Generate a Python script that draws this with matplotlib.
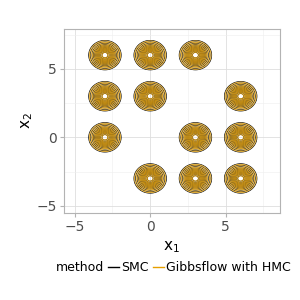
import matplotlib
matplotlib.use("Agg")
import matplotlib.pyplot as plt
import numpy as np
from matplotlib.lines import Line2D

# mixture component centres (x1, x2)
centre_x1 = [-3, 0, 3, -3, 0, 6, -3, 3, 6, 0, 3, 6]
centre_x2 = [6, 6, 6, 3, 3, 3, 0, 0, 0, -3, -3, -3]
methods = ["SMC", "Gibbsflow with HMC"]
method_sd = [0.48, 0.46]
colors = ["black", "#E69F00"]
level_frac = [0.08, 0.13, 0.2, 0.28, 0.36, 0.44, 0.52, 0.6, 0.68, 0.76, 0.84, 0.92]

fig = plt.figure(figsize=(3, 3), dpi=100)
ax = fig.add_axes([0.213, 0.291, 0.72, 0.612])

gx = np.linspace(-5.7, 8.6, 500)
gy = np.linspace(-5.5, 7.9, 500)
X, Y = np.meshgrid(gx, gy)

for m, sd, c in zip(methods, method_sd, colors):
    Z = np.zeros_like(X)
    for cx, cy in zip(centre_x1, centre_x2):
        Z += np.exp(-((X - cx) ** 2 + (Y - cy) ** 2) / (2 * sd ** 2))
    ax.contour(X, Y, Z, levels=[f * Z.max() for f in level_frac],
               colors=c, linewidths=0.5, zorder=3)

ax.set_xlim(-5.72, 8.6)
ax.set_ylim(-5.5, 7.9)
ax.set_xticks([-5, 0, 5])
ax.set_yticks([-5, 0, 5])
ax.set_xticks([-2.5, 2.5, 7.5], minor=True)
ax.set_yticks([-2.5, 2.5, 7.5], minor=True)
ax.grid(which="major", color="#DEDEDE", linewidth=0.6, zorder=0)
ax.grid(which="minor", color="#EEEEEE", linewidth=0.4, zorder=0)
ax.set_axisbelow(True)
for s in ax.spines.values():
    s.set_color("#B3B3B3")
    s.set_linewidth(0.8)
ax.tick_params(which="major", length=3, color="#B3B3B3", labelsize=10, labelcolor="#4D4D4D", pad=2)
ax.tick_params(which="minor", length=0)
ax.set_xlabel("x$_1$", fontsize=11, labelpad=4)
ax.set_ylabel("x$_2$", fontsize=11, labelpad=1)

empty = Line2D([], [], color="none")
handles = [empty] + [Line2D([], [], color=c, linewidth=1) for c in colors]
labels = ["method"] + methods
leg = fig.legend(handles, labels, loc="center", bbox_to_anchor=(0.555, 0.107),
                 ncol=3, frameon=False, fontsize=9,
                 handlelength=0.9, handletextpad=0.2, columnspacing=0.3)

fig.savefig("out.png", dpi=100)
